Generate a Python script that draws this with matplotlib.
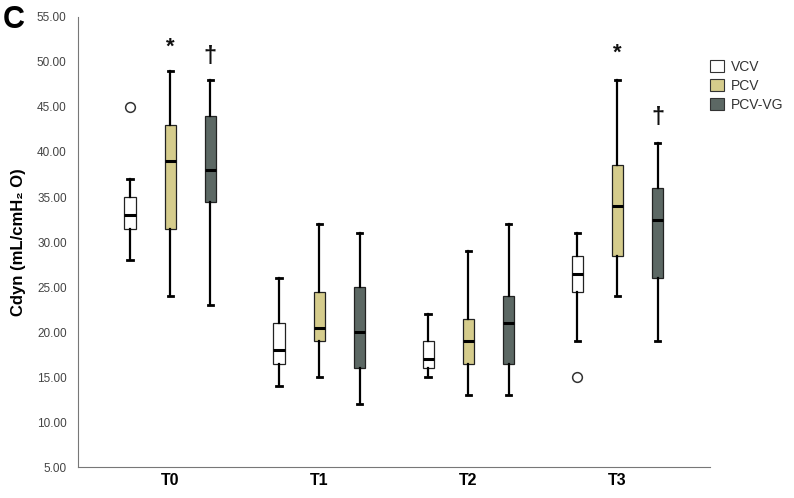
import numpy as np
import matplotlib.pyplot as plt

plt.rcParams['font.family'] = ['Liberation Sans', 'DejaVu Sans']

groups = ['T0', 'T1', 'T2', 'T3']
modes = ['VCV', 'PCV', 'PCV-VG']
colors = ['#ffffff', '#d5cc8c', '#5c6864']

# 每组数据: [下须, Q1, 中位数, Q3, 上须]
vcv = [[28, 31.5, 33, 35, 37], [14, 16.5, 18, 21, 26], [15, 16, 17, 19, 22], [19, 24.5, 26.5, 28.5, 31]]
pcv = [[24, 31.5, 39, 43, 49], [15, 19, 20.5, 24.5, 32], [13, 16.5, 19, 21.5, 29], [24, 28.5, 34, 38.5, 48]]
pcvvg = [[23, 34.5, 38, 44, 48], [12, 16, 20, 25, 31], [13, 16.5, 21, 24, 32], [19, 26, 32.5, 36, 41]]
vcv_out = [[45], [], [], [15]]
pcv_out = [[], [], [], []]
pcvvg_out = [[], [], [], []]

# 显著性标记 (组, 模式, y值, 符号)
marks = [(0, 1, 51.6, '*'), (0, 2, 50.6, '†'), (3, 1, 51.0, '*'), (3, 2, 43.8, '†')]

fig = plt.figure(figsize=(7.94, 4.98), dpi=100)
ax = fig.add_axes([0.098, 0.062, 0.796, 0.904])

offsets = [-0.27, 0, 0.27]
all_data = [vcv, pcv, pcvvg]
all_out = [vcv_out, pcv_out, pcvvg_out]
for m in range(3):
    stats = []
    for g in range(4):
        lo, q1, med, q3, hi = all_data[m][g]
        stats.append({'whislo': lo, 'q1': q1, 'med': med, 'q3': q3, 'whishi': hi, 'fliers': all_out[m][g]})
    pos = np.arange(4) + offsets[m]
    ax.bxp(stats, positions=pos, widths=0.075, patch_artist=True, manage_ticks=False,
           boxprops=dict(facecolor=colors[m], edgecolor='#222222', linewidth=0.9),
           medianprops=dict(color='black', linewidth=2.2),
           whiskerprops=dict(color='black', linewidth=1.6),
           capprops=dict(color='black', linewidth=2.0),
           capwidths=0.035,
           flierprops=dict(marker='o', markerfacecolor='white', markeredgecolor='#333333', markersize=7, markeredgewidth=1.1))

for g, m, y, s in marks:
    ax.text(g + offsets[m], y, s, ha='center', va='center', fontsize=16 if s == '*' else 17,
            fontweight='bold', color='#111111')

ax.set_xlim(-0.62, 3.62)
ax.set_ylim(5, 55)
ax.set_yticks(np.arange(5, 56, 5))
ax.set_yticklabels(['%.2f' % v for v in np.arange(5, 56, 5)], fontsize=8.5, color='#444444')
ax.set_xticks(range(4))
ax.set_xticklabels(groups, fontsize=11.5, fontweight='bold')
ax.tick_params(axis='both', length=0, pad=4)
ax.tick_params(axis='y', pad=8)
ax.spines['top'].set_visible(False)
ax.spines['right'].set_visible(False)
ax.spines['left'].set_color('#777777')
ax.spines['bottom'].set_color('#777777')
ax.set_ylabel('Cdyn (mL/cmH₂ O)', fontsize=12, fontweight='bold', labelpad=8)

handles = [plt.Rectangle((0, 0), 1, 1, facecolor=colors[i], edgecolor='#333333', linewidth=0.8) for i in range(3)]
fig.legend(handles, modes, loc='upper left', bbox_to_anchor=(0.878, 0.905), frameon=False,
           fontsize=10, handlelength=1.0, handleheight=1.0, handletextpad=0.5, labelspacing=0.35,
           labelcolor='#333333')

fig.text(0.003, 0.99, 'C', fontsize=22, fontweight='bold', va='top', ha='left')

plt.savefig('out.png', dpi=100)
